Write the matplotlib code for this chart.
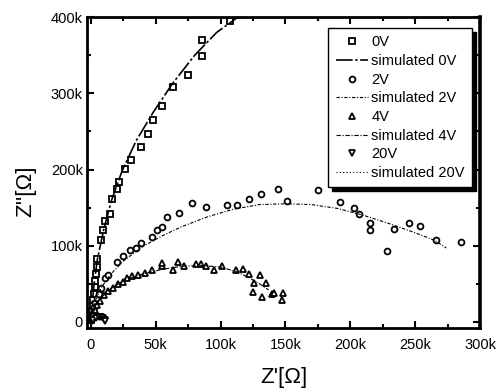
import matplotlib

matplotlib.use("Agg")
import matplotlib.pyplot as plt
from matplotlib.ticker import FuncFormatter, MultipleLocator

plt.rcParams["font.family"] = ["Liberation Sans", "DejaVu Sans"]

# measured points (Z', Z'') in ohm
v0_x = [300, 600, 1000, 1500, 2000, 2500, 3000, 3500, 4000, 4500, 5000, 8000, 9000, 11000,
        15000, 16000, 20000, 22000, 26000, 31000, 39000, 44000, 48000, 55000, 63000, 75000,
        86000, 86000, 107000]
v0_y = [3000, 8000, 14000, 21000, 29000, 37000, 46000, 54000, 63000, 72000, 82000, 108000,
        121000, 132000, 141000, 161000, 174000, 184000, 201000, 213000, 229000, 247000,
        265000, 283000, 308000, 324000, 349000, 370000, 395000]
sim0_x = [0, 1000, 2500, 5000, 10000, 16000, 24000, 35000, 48000, 63000, 80000, 97000, 115000]
sim0_y = [0, 25000, 50000, 82000, 122000, 160000, 198000, 238000, 275000, 313000, 350000,
          380000, 402000]

v2_x = [800, 1500, 2500, 3500, 5000, 6500, 8000, 11000, 13000, 20000, 25000, 30000, 35000,
        39000, 47000, 51000, 55000, 59000, 68000, 78000, 89000, 105000, 113000, 122000,
        131000, 144000, 151000, 175000, 192000, 203000, 207000, 215000, 215000, 228000,
        234000, 245000, 254000, 266000, 285000]
v2_y = [6000, 12000, 19000, 25000, 31000, 37000, 44000, 58000, 62000, 78000, 86000, 95000,
        97000, 104000, 112000, 120000, 124000, 138000, 143000, 156000, 151000, 153000, 153000,
        161000, 168000, 175000, 159000, 173000, 157000, 149000, 141000, 130000, 121000, 93000,
        122000, 130000, 126000, 107000, 105000]
sim2_x = [0, 3000, 8000, 15000, 25000, 40000, 55000, 70000, 90000, 110000, 130000, 150000,
          170000, 190000, 210000, 230000, 250000, 265000, 274000]
sim2_y = [0, 25000, 45000, 62000, 80000, 99000, 113000, 125000, 138000, 148000, 154000,
          155000, 154000, 149000, 140000, 129000, 117000, 107000, 97000]

v4_x = [1000, 2000, 3000, 5000, 7000, 10000, 13000, 17000, 21000, 25000, 28000, 32000, 36000,
        42000, 47000, 55000, 55000, 63000, 67000, 72000, 81000, 85000, 89000, 95000, 101000,
        112000, 117000, 122000, 126000, 130000, 135000, 125000, 132000, 140000, 141000,
        148000, 147000]
v4_y = [5000, 10000, 15000, 22000, 28000, 35000, 40000, 45000, 50000, 53000, 58000, 60000,
        62000, 64000, 68000, 73000, 77000, 68000, 79000, 73000, 76000, 76000, 73000, 68000,
        73000, 68000, 70000, 63000, 51000, 62000, 51000, 39000, 33000, 36000, 38000, 38000,
        29000]
sim4_x = [0, 3000, 8000, 15000, 25000, 40000, 55000, 70000, 85000, 100000, 112000, 122000,
          130000, 137000]
sim4_y = [0, 18000, 32000, 43000, 54000, 63000, 69000, 73000, 74000, 72000, 66000, 58000,
          50000, 42000]

v20_x = [1000, 2000, 4000, 6000, 8000, 9500, 10500, 11000]
v20_y = [1000, 3000, 5000, 6000, 6000, 5000, 3000, 1000]
sim20_x = [0, 2000, 4000, 6000, 8000, 10000, 11000]
sim20_y = [0, 3000, 5000, 6000, 5500, 3500, 0]

x_ticks = [0, 50000, 100000, 150000, 200000, 250000, 300000]


def k_label(value, _pos):
    if abs(value) < 1:
        return "0"
    return f"{value / 1000:.0f}k"


fig = plt.figure(figsize=(5.0, 3.9), dpi=100)
ax = fig.add_axes([0.174, 0.159, 0.786, 0.797])

marker_style = dict(linestyle="none", markerfacecolor="white", markeredgecolor="black",
                    markeredgewidth=1.3, markersize=4.2)

ax.plot(v0_x, v0_y, marker="s", label="0V", **marker_style)
ax.plot(sim0_x, sim0_y, color="black", linewidth=1.2, linestyle=(0, (10, 1.5, 1.5, 1.5)),
        label="simulated 0V")
ax.plot(v2_x, v2_y, marker="o", label="2V", **marker_style)
ax.plot(sim2_x, sim2_y, color="black", linewidth=0.8, linestyle=(0, (3, 1.5, 1, 1.5)),
        label="simulated 2V")
ax.plot(v4_x, v4_y, marker="^", label="4V", **marker_style)
ax.plot(sim4_x, sim4_y, color="black", linewidth=0.8, linestyle=(0, (4, 1.5, 1, 1.5)),
        label="simulated 4V")
ax.plot(v20_x, v20_y, marker="v", label="20V", **marker_style)
ax.plot(sim20_x, sim20_y, color="black", linewidth=0.8, linestyle=(0, (1, 2)),
        label="simulated 20V")

ax.set_xlim(-3000, 300000)
ax.set_ylim(-8000, 400000)
ax.set_xticks(x_ticks)
ax.yaxis.set_major_locator(MultipleLocator(100000))
ax.xaxis.set_minor_locator(MultipleLocator(25000))
ax.yaxis.set_minor_locator(MultipleLocator(50000))
ax.xaxis.set_major_formatter(FuncFormatter(k_label))
ax.yaxis.set_major_formatter(FuncFormatter(k_label))

ax.tick_params(which="both", direction="in", top=True, right=True, width=1.5)
ax.tick_params(which="major", length=5, labelsize=10.5)
ax.tick_params(axis="x", which="major", pad=7)
ax.tick_params(axis="y", which="major", pad=3)
ax.tick_params(which="minor", length=3)
for side in ["left", "bottom", "top"]:
    ax.spines[side].set_linewidth(2.0)
ax.spines["right"].set_linewidth(2.6)

ax.set_xlabel("Z'[Ω]", fontsize=16)
ax.set_ylabel("Z''[Ω]", fontsize=16)
ax.xaxis.set_label_coords(0.5, -0.125)
ax.yaxis.set_label_coords(-0.13, 0.44)

legend = ax.legend(loc="upper right", bbox_to_anchor=(0.98, 0.965), borderaxespad=0,
                   fontsize=10.5, frameon=True, fancybox=False, edgecolor="black",
                   handlelength=2.2, handletextpad=0.25, labelspacing=0.32, borderpad=0.5,
                   shadow={"color": "black", "alpha": 1.0, "ox": 3, "oy": -3})
legend.get_frame().set_linewidth(1.0)

fig.savefig("out.png", dpi=100)
